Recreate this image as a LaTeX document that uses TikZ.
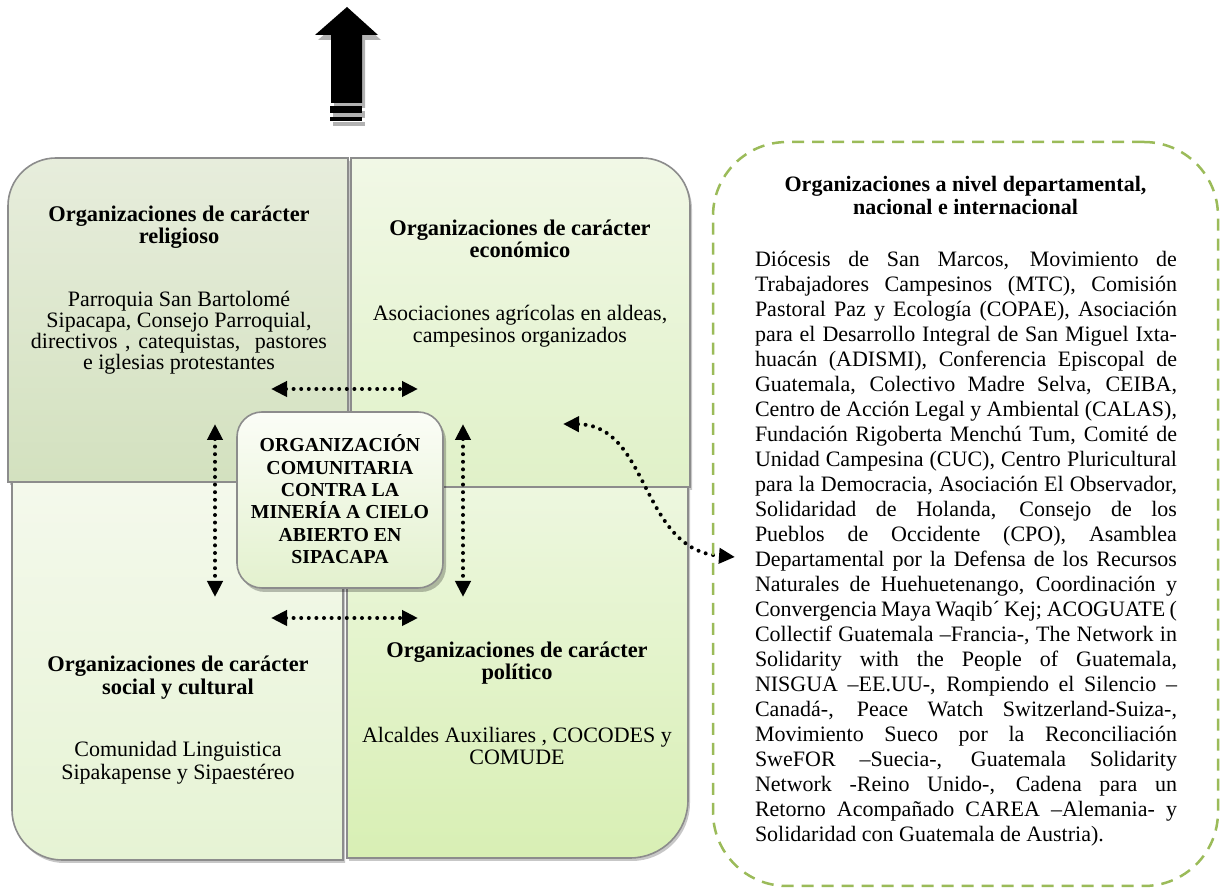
\documentclass[tikz,border=0pt]{standalone}
\usepackage{fontspec}
\setmainfont{Liberation Serif}
\usetikzlibrary{arrows.meta}
\definecolor{dashgreen}{HTML}{9BBB59}
\definecolor{quadline}{HTML}{8C8C8C}
\definecolor{tltop}{HTML}{E7EDDC}\definecolor{tlbot}{HTML}{D3E1BF}
\definecolor{trtop}{HTML}{F1F8E6}\definecolor{trbot}{HTML}{E0F1C8}
\definecolor{bltop}{HTML}{F4F9EC}\definecolor{blbot}{HTML}{E6F3D4}
\definecolor{brtop}{HTML}{EDF7DF}\definecolor{brbot}{HTML}{D8EFB4}
\definecolor{cbtop}{HTML}{FBFDF7}\definecolor{cbbot}{HTML}{E3F1CE}
\newcommand\cblock[4]{\parbox[t]{#1}{\fontsize{#2}{#3}\selectfont\lineskiplimit=-\maxdimen\centering #4\par}}
\newcommand\jline[1]{\hbox to \hsize{#1}}
\begin{document}
\begin{tikzpicture}[x=0.5pt,y=-0.5pt,
  every node/.style={inner sep=0pt,outer sep=0pt},
  quadshadow/.style={fill=black,opacity=0.22},
  quadborder/.style={draw=quadline,line width=0.8pt},
  dotarrow/.style={{Triangle[length=8pt,width=7.5pt]}-{Triangle[length=8pt,width=7.5pt]},
     line width=2pt,dash pattern=on 0pt off 3.8pt,line cap=round},
  dashbox/.style={draw=dashgreen,line width=1.25pt,dash pattern=on 6pt off 4pt,rounded corners=37pt},
  centerbox/.style={draw=quadline,line width=0.8pt,rounded corners=12.5pt,top color=cbtop,bottom color=cbbot,
     minimum width=103pt,minimum height=88pt},
  headtxt/.style={anchor=base,font=\bfseries},
  bodytxt/.style={anchor=base}]
\useasboundingbox (0,0) rectangle (1228,892);
\fill[white] (0,0) rectangle (1228,892);

% top block arrow
\begin{scope}[shift={(3,5)}]
\fill[black!30] (347,7) -- (378,35) -- (362,35) -- (362,103) -- (331,103) -- (331,35) -- (315,35) -- cycle;
\fill[black!30] (330,106) rectangle (362,113);
\fill[black!30] (330,117) rectangle (362,121);
\end{scope}
\fill[black] (347,7) -- (378,35) -- (362,35) -- (362,103) -- (331,103) -- (331,35) -- (315,35) -- cycle;
\fill[black] (330,106) rectangle (362,113);
\fill[black] (330,117) rectangle (362,121);

% quadrant shadows
\begin{scope}[shift={(2,3)}]
\fill[quadshadow] (8,482) -- (8,206) .. controls (8,179.5) and (29.5,158) .. (56,158) -- (348,158) -- (348,482) -- cycle;
\fill[quadshadow] (351,158) -- (642,158) .. controls (668.5,158) and (690,179.5) .. (690,206) -- (690,487) -- (351,487) -- cycle;
\fill[quadshadow] (12,482) -- (343,482) -- (343,860) -- (62,860) .. controls (34.4,860) and (12,837.6) .. (12,810) -- cycle;
\fill[quadshadow] (347,487) -- (688,487) -- (688,800) .. controls (688,832) and (662,858) .. (630,858) -- (347,858) -- cycle;
\end{scope}
% quadrants
\path[quadborder,top color=tltop,bottom color=tlbot] (8,482) -- (8,206) .. controls (8,179.5) and (29.5,158) .. (56,158) -- (348,158) -- (348,482) -- cycle;
\path[quadborder,top color=trtop,bottom color=trbot] (351,158) -- (642,158) .. controls (668.5,158) and (690,179.5) .. (690,206) -- (690,487) -- (351,487) -- cycle;
\path[quadborder,top color=bltop,bottom color=blbot] (12,482) -- (343,482) -- (343,860) -- (62,860) .. controls (34.4,860) and (12,837.6) .. (12,810) -- cycle;
\path[quadborder,top color=brtop,bottom color=brbot] (347,487) -- (688,487) -- (688,800) .. controls (688,832) and (662,858) .. (630,858) -- (347,858) -- cycle;

% quadrant texts
\node[headtxt] (tlhead) at (179,222) {\cblock{170pt}{11.2}{10.75}{\bfseries Organizaciones de carácter\\religioso}};
\node[bodytxt] (tlbody) at (179,307) {\cblock{170pt}{11}{10.5}{Parroquia San Bartolomé\\Sipacapa, Consejo Parroquial,\\\makebox[148pt][s]{directivos , catequistas,\ \ pastores}\\e iglesias protestantes}};
\node[headtxt] (trhead) at (520,236) {\cblock{170pt}{11.2}{11}{\bfseries Organizaciones de carácter\\económico}};
\node[bodytxt] (trbody) at (520,321) {\cblock{170pt}{11}{11}{Asociaciones agrícolas en aldeas,\\campesinos organizados}};
\node[headtxt] (blhead) at (178,672) {\cblock{170pt}{11.2}{11.5}{\bfseries Organizaciones de carácter\\social y cultural}};
\node[bodytxt] (blbody) at (178,757) {\cblock{170pt}{11}{11.5}{Comunidad Linguistica\\Sipakapense y Sipaestéreo}};
\node[headtxt] (brhead) at (517,658) {\cblock{170pt}{11.2}{11}{\bfseries Organizaciones de carácter\\político}};
\node[bodytxt] (brbody) at (517,743) {\cblock{170pt}{11}{11}{Alcaldes Auxiliares , COCODES y\\COMUDE}};

% center box
\fill[black,opacity=0.25,rounded corners=12.5pt] (240,416) rectangle (446,592);
\node[centerbox] (ctr) at (340,500) {};
\node[headtxt] (ctrtxt) at (340,452) {\cblock{110pt}{9.9}{11.15}{\bfseries ORGANIZACIÓN\\COMUNITARIA\\CONTRA LA\\MINERÍA A CIELO\\ABIERTO EN\\SIPACAPA}};

% dotted double arrows
\coordinate (h1a) at (271,389); \coordinate (h1b) at (418,389);
\coordinate (h2a) at (271,618); \coordinate (h2b) at (418,618);
\coordinate (v1a) at (215,424); \coordinate (v1b) at (215,597);
\coordinate (v2a) at (463,424); \coordinate (v2b) at (463,597);
\coordinate (ca) at (563,424); \coordinate (cb) at (735,557);
\draw[dotarrow] (h1a) -- (h1b);
\draw[dotarrow] (h2a) -- (h2b);
\draw[dotarrow] (v1a) -- (v1b);
\draw[dotarrow] (v2a) -- (v2b);
\draw[dotarrow] (ca) .. controls (650,425) and (640,550) .. (cb);

% right dashed box
\node[dashbox,minimum width=252.5pt,minimum height=372pt] (rbox) at (965.5,514) {};
\node[headtxt] (rhead) at (965.5,192) {\cblock{250pt}{11}{11.5}{\bfseries Organizaciones a nivel departamental,\\nacional e internacional}};
\node[anchor=base west] (rbody) at (755,267) {\parbox[t]{211pt}{\fontsize{11}{12.5}\selectfont\lineskiplimit=-\maxdimen
\jline{Diócesis de San Marcos, Movimiento de}
\jline{Trabajadores Campesinos (MTC), Comisión}
\jline{Pastoral Paz y Ecología (COPAE), Asociación}
\jline{para el Desarrollo Integral de San Miguel Ixta-}
\jline{huacán (ADISMI), Conferencia Episcopal de}
\jline{Guatemala, Colectivo Madre Selva, CEIBA,}
\jline{Centro de Acción Legal y Ambiental (CALAS),}
\jline{Fundación Rigoberta Menchú Tum, Comité de}
\jline{Unidad Campesina (CUC), Centro Pluricultural}
\jline{para la Democracia, Asociación El Observador,}
\jline{Solidaridad de Holanda, Consejo de los}
\jline{Pueblos de Occidente (CPO), Asamblea}
\jline{Departamental por la Defensa de los Recursos}
\jline{Naturales de Huehuetenango, Coordinación y}
\jline{Convergencia Maya Waqib´ Kej; ACOGUATE (}
\jline{Collectif Guatemala –Francia-, The Network in}
\jline{Solidarity with the People of Guatemala,}
\jline{NISGUA –EE.UU-, Rompiendo el Silencio –}
\jline{Canadá-, Peace Watch Switzerland-Suiza-,}
\jline{Movimiento Sueco por la Reconciliación}
\jline{SweFOR –Suecia-, Guatemala Solidarity}
\jline{Network -Reino Unido-, Cadena para un}
\jline{Retorno Acompañado CAREA –Alemania- y}
\hbox{Solidaridad con Guatemala de Austria).}}};
\end{tikzpicture}
\end{document}
